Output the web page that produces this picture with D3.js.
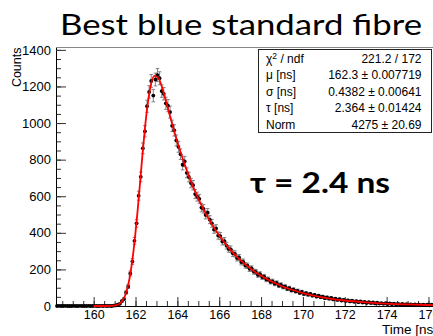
<!DOCTYPE html>
<html>
<head>
<meta charset="utf-8">
<script src="https://cdn.jsdelivr.net/npm/d3@7"></script>
<style>
  body { margin: 0; background: #fff; }
  svg { display: block; }
  .axis text { font-family: "Liberation Sans", Arial, sans-serif; font-size: 13px; fill: #000; }
  .axis.x text { font-size: 12.5px; }
  .axis line { stroke: #333; }
  .axis path { stroke: #000; }
</style>
</head>
<body>
<script>
// histogram: 0.1 ns bins starting at 158.2 ns
var binLow = 158.2,
    binWidth = 0.1;

var counts = [
  0, 1, 0, 0, 1, 0, 0, 0, 1, 0, 0, 1, 0, 0, 0, 1, 0, 0, 1, 0, 0, 1, 0, 1, 0, 1, 0, 2,
  3, 8, 12, 27, 38, 74, 106, 178, 243, 356, 452, 603, 706, 862, 955, 1092, 1170, 1230,
  1150, 1238, 1262, 1245, 1175, 1160, 1108, 1095, 1060, 985, 960, 905, 870, 830, 772, 790,
  728, 705, 672, 660, 612, 598, 586, 538, 531, 498, 510, 472, 452, 418, 424, 385,
  382, 352, 355, 330, 312, 310, 288, 285, 262, 265, 240, 241, 222, 220, 203, 205,
  188, 186, 170, 174, 158, 160, 145, 146, 132, 135, 122, 126, 112, 116, 104, 106,
  94, 98, 86, 90, 80, 83, 72, 77, 66, 70, 62, 66, 57, 60, 52, 56, 48, 51, 43, 47,
  40, 44, 36, 40, 33, 37, 30, 34, 28, 31, 25, 29, 23, 27, 21, 25, 19, 22, 17, 21,
  16, 19, 14, 18, 13, 16, 12, 15, 11, 14, 10, 13, 9, 12, 8, 11, 8, 10, 7, 9,
  6, 9, 6, 8, 5, 8, 5, 7, 4, 7, 4, 6, 4
];

// fitted curve
var fitTimes = [160.0, 160.5, 160.8, 161.1, 161.3, 161.5, 161.7, 161.9, 162.1, 162.3, 162.5,
  162.7, 162.9, 163.1, 163.3, 163.5, 163.7, 163.9, 164.1, 164.3, 164.5, 164.8, 165.0, 165.5,
  166.0, 166.5, 167.0, 167.5, 168.0, 169.0, 170.0, 171.0, 172.0, 173.0, 174.0, 175.0, 176.0, 176.6];
var fitValues = [0, 0, 0.5, 5, 19, 56, 142, 297, 521, 785, 1026,
  1191, 1258, 1245, 1183, 1101, 1016, 935, 859, 790, 725, 639, 587, 475,
  385, 311, 252, 204, 165, 108, 71, 46, 30, 20, 13, 8.5, 5.6, 4.4];

var xTicks = [160, 162, 164, 166, 168, 170, 172, 174, 176];
var yTicks = [0, 200, 400, 600, 800, 1000, 1200, 1400];

var statNames = ["χ2 / ndf", "μ [ns]", "σ [ns]", "τ [ns]", "Norm"];
var statValues = ["221.2 / 172", "162.3 ± 0.007719", "0.4382 ± 0.00641", "2.364 ± 0.01424", "4275 ± 20.69"];

var width = 433, height = 336;
var frame = {left: 56, top: 47.5, bottom: 306, right: 440};

var svg = d3.select("body").append("svg")
    .attr("width", width)
    .attr("height", height);

var x = d3.scaleLinear().domain([158.2, 176.55]).range([frame.left, frame.right]);
var y = d3.scaleLinear().domain([0, 1413]).range([frame.bottom, frame.top]);

// frame top
svg.append("line")
    .attr("x1", frame.left).attr("x2", width)
    .attr("y1", frame.top).attr("y2", frame.top)
    .attr("stroke", "#888");

// minor ticks
svg.append("g").attr("class", "axis")
    .attr("transform", "translate(" + frame.left + ",0)")
    .call(d3.axisLeft(y).tickValues(d3.range(0, 1401, 50)).tickSize(-5).tickFormat(""))
    .select(".domain").remove();
svg.append("g").attr("class", "axis")
    .attr("transform", "translate(0," + frame.bottom + ")")
    .call(d3.axisBottom(x).tickValues(d3.range(158.5, 176.6, 0.5)).tickSize(-5).tickFormat(""))
    .select(".domain").remove();

// major ticks + labels
svg.append("g").attr("class", "axis y")
    .attr("transform", "translate(" + frame.left + ",0)")
    .call(d3.axisLeft(y).tickValues(yTicks).tickFormat(d3.format("d"))
      .tickSize(-10).tickSizeOuter(0).tickPadding(5));
svg.append("g").attr("class", "axis x")
    .attr("transform", "translate(0," + frame.bottom + ")")
    .call(d3.axisBottom(x).tickValues(xTicks).tickFormat(d3.format("d"))
      .tickSize(-9).tickSizeOuter(0).tickPadding(4.5));

// data points with error bars
var bins = counts.map(function(c, i) {
  return {t: binLow + binWidth * (i + 0.5), n: c};
});

var pts = svg.append("g");
pts.selectAll("g.err")
    .data(bins.filter(function(d) { return d.n > 0; }))
  .enter().append("path")
    .attr("fill", "none")
    .attr("stroke", "#777")
    .attr("stroke-width", 0.9)
    .attr("d", function(d) {
      var cx = x(d.t), e = Math.sqrt(d.n),
          y1 = y(d.n + e), y2 = y(d.n - e);
      return "M" + cx + "," + y1 + "V" + y2 +
             "M" + (cx - 1.8) + "," + y1 + "H" + (cx + 1.8) +
             "M" + (cx - 1.8) + "," + y2 + "H" + (cx + 1.8);
    });
pts.selectAll("circle")
    .data(bins)
  .enter().append("circle")
    .attr("cx", function(d) { return x(d.t); })
    .attr("cy", function(d) { return y(d.n); })
    .attr("r", 1.9)
    .attr("fill", "#000");

// fit curve
var fitLine = d3.line()
    .x(function(d) { return x(d[0]); })
    .y(function(d) { return y(d[1]); })
    .curve(d3.curveMonotoneX);
svg.append("path")
    .datum(fitTimes.map(function(t, i) { return [t, fitValues[i]]; }))
    .attr("fill", "none")
    .attr("stroke", "#f00")
    .attr("stroke-width", 1.8)
    .attr("d", fitLine);

// axis titles
svg.append("text")
    .attr("transform", "translate(21," + frame.top + ") rotate(-90)")
    .attr("text-anchor", "end")
    .style("font-family", "Liberation Sans, Arial, sans-serif")
    .style("font-size", "12.5px")
    .text("Counts");
svg.append("text")
    .attr("x", 382).attr("y", 334)
    .style("font-family", "Liberation Sans, Arial, sans-serif")
    .style("font-size", "13.5px")
    .text("Time [ns]");

// stats box
var box = svg.append("g");
box.append("rect")
    .attr("x", 258.5).attr("y", 49.5)
    .attr("width", 173).attr("height", 83)
    .attr("fill", "#fff")
    .attr("stroke", "#222");
statNames.forEach(function(s, i) {
  var ty = 62.5 + i * 16.5;
  var t = box.append("text")
      .attr("x", 266).attr("y", ty)
      .style("font-family", "Liberation Sans, Arial, sans-serif")
      .style("font-size", "12px");
  if (i === 0) {
    t.append("tspan").text("χ");
    t.append("tspan").attr("dy", -4).style("font-size", "8.5px").text("2");
    t.append("tspan").attr("dy", 4).text(" / ndf");
  } else {
    t.text(s);
  }
  box.append("text")
      .attr("x", 421.5).attr("y", ty)
      .attr("text-anchor", "end")
      .style("font-family", "Liberation Sans, Arial, sans-serif")
      .style("font-size", "12px")
      .text(statValues[i]);
});

// slide title and annotation
svg.append("text")
    .attr("x", 60).attr("y", 35)
    .attr("textLength", 362)
    .attr("lengthAdjust", "spacingAndGlyphs")
    .style("font-family", "Lato, 'Open Sans', sans-serif")
    .style("font-size", "28px")
    .text("Best blue standard fibre");
svg.append("text")
    .attr("x", 250).attr("y", 193)
    .attr("textLength", 140)
    .attr("lengthAdjust", "spacingAndGlyphs")
    .style("font-family", "Lato, 'Open Sans', sans-serif")
    .style("font-weight", "bold")
    .style("font-size", "28px")
    .text("τ = 2.4 ns");
</script>
</body>
</html>
